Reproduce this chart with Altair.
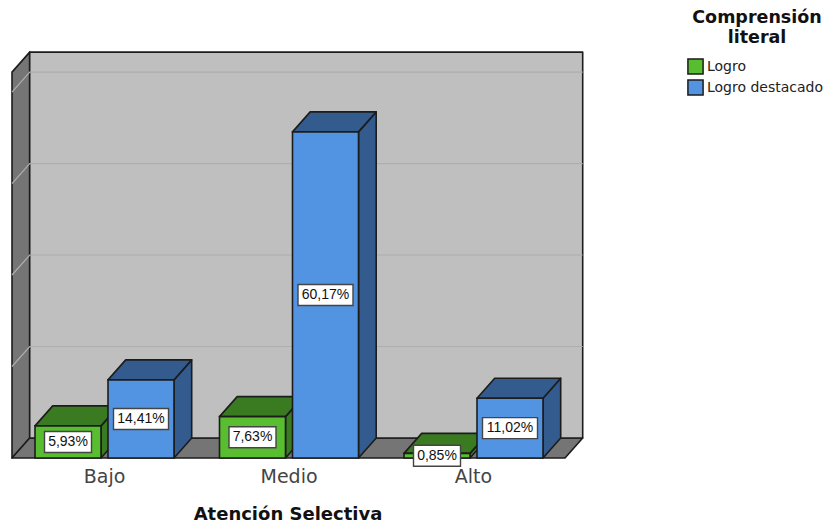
import altair as alt
import pandas as pd

categories = ["Bajo", "Medio", "Alto"]
series = ["Logro", "Logro destacado"]
logro = [5.93, 7.63, 0.85]
destacado = [14.41, 60.17, 11.02]
hidden_grid = [16.88, 33.76, 50.64, 67.52]
wall_top = 71.2
legend_title = ["Comprensión", "literal"]

front_colors = ["#58BE30", "#5294E2"]
dark_colors = ["#3A7A20", "#335B8E"]
FONT = "Liberation Sans"
WIDE = "DejaVu Sans"

PX = 5.42            # pixels per percentage point
DX, DY = 17.7, 20 / PX
BAR, GAP, STEP, FIRST = 66, 7, 184.5, 23
WALL = 553

XS = alt.Scale(domain=[-4, 815], nice=False, zero=False)
YS = alt.Scale(domain=[-66 / PX, 450 / PX], nice=False, zero=False)
X = alt.X("x:Q", scale=XS, axis=None)
Y = alt.Y("y:Q", scale=YS, axis=None)

def face(pts, color):
    d = pd.DataFrame(pts, columns=["x", "y", "y2"])
    return alt.Chart(d).mark_area(fill=color, stroke="#1c1c1c", strokeWidth=1.6, strokeJoin="round").encode(
        x=X, y=alt.Y("y:Q", scale=YS, axis=None, stack=None), y2="y2:Q")

layers = [
    face([(0, wall_top, 0), (DX, wall_top + DY, DY)], "#757575"),
    face([(0, 0, 0), (DX, DY, 0), (WALL, DY, 0), (WALL + DX, DY, DY)], "#757575"),
    face([(DX, wall_top + DY, DY), (WALL + DX, wall_top + DY, DY)], "#BFBFBF"),
]

grid = []
for g in hidden_grid:
    grid.append({"x": 0, "y": g, "pid": g, "i": 0})
    grid.append({"x": DX, "y": g + DY, "pid": g, "i": 1})
    grid.append({"x": WALL + DX, "y": g + DY, "pid": g, "i": 2})
layers.append(alt.Chart(pd.DataFrame(grid)).mark_line(color="#AEAEAE", strokeWidth=1.2).encode(
    x=X, y=Y, detail="pid:N", order="i:Q"))

boxes = []
for s, (name, vals) in enumerate(zip(series, [logro, destacado])):
    fronts = []
    for c, v in enumerate(vals):
        xl = FIRST + c * STEP + s * (BAR + GAP)
        xr = xl + BAR
        layers.append(face([(xr, v, 0), (xr + DX, v + DY, DY)], dark_colors[s]))
        layers.append(face([(xl, v, v), (xl + DX, v + DY, v), (xr, v + DY, v), (xr + DX, v + DY, v + DY)], dark_colors[s]))
        fronts.append({"x": xl, "x2": xr, "y": v, "y2": 0, "s": name})
        label = f"{v:.2f}%".replace(".", ",")
        half = 27.5 if len(label) > 5 else 23.5
        boxes.append({"x": xl + BAR / 2 - half, "x2": xl + BAR / 2 + half, "cx": xl + BAR / 2,
                      "y": v / 2 + 10.5 / PX, "y2": v / 2 - 10.5 / PX, "m": v / 2, "t": label})
    layers.append(alt.Chart(pd.DataFrame(fronts)).mark_rect(stroke="#1c1c1c", strokeWidth=1.6).encode(
        x=X, x2="x2:Q", y=Y, y2="y2:Q",
        color=alt.Color("s:N", scale=alt.Scale(domain=series, range=front_colors), legend=alt.Legend(
            orient="none", legendX=679, legendY=50, title=None,
            labelFont=WIDE, labelFontSize=14, labelColor="#222222", labelOffset=3,
            symbolType="square", symbolSize=230, symbolStrokeColor="#1c1c1c", symbolStrokeWidth=1.5,
            rowPadding=-2, symbolOpacity=1))))

box_df = pd.DataFrame(boxes)
layers.append(alt.Chart(box_df).mark_rect(fill="white", stroke="#444444", strokeWidth=1.4).encode(
    x=X, x2="x2:Q", y=Y, y2="y2:Q"))
layers.append(alt.Chart(box_df).mark_text(font=FONT, fontSize=14, color="#111111").encode(
    x=alt.X("cx:Q", scale=XS, axis=None), y=alt.Y("m:Q", scale=YS, axis=None), text="t:N"))

cat_df = pd.DataFrame({"x": [FIRST + BAR + GAP / 2 + i * STEP for i in range(3)], "y": [-19 / PX] * 3, "t": categories})
layers.append(alt.Chart(cat_df).mark_text(font=WIDE, fontSize=19, color="#444444").encode(
    x=X, y=Y, text="t:N"))
title_df = pd.DataFrame({"x": [WALL / 2 - 0.5], "y": [-57 / PX], "t": ["Atención Selectiva"]})
layers.append(alt.Chart(title_df).mark_text(font=WIDE, fontSize=18, fontWeight="bold", color="#111111").encode(
    x=X, y=Y, text="t:N"))
lt_df = pd.DataFrame({"x": [745, 745], "y": [(458 - 18) / PX, (458 - 38) / PX], "t": legend_title})
layers.append(alt.Chart(lt_df).mark_text(font=WIDE, fontSize=17.5, fontWeight="bold", color="#111111").encode(
    x=X, y=Y, text="t:N"))

chart = alt.layer(*layers).properties(width=819, height=516, padding=0, background="white",
                                      autosize=alt.AutoSizeParams(type="none")).configure_view(stroke=None)
chart.save("out.html", embed_options={"renderer": "svg", "actions": False})
